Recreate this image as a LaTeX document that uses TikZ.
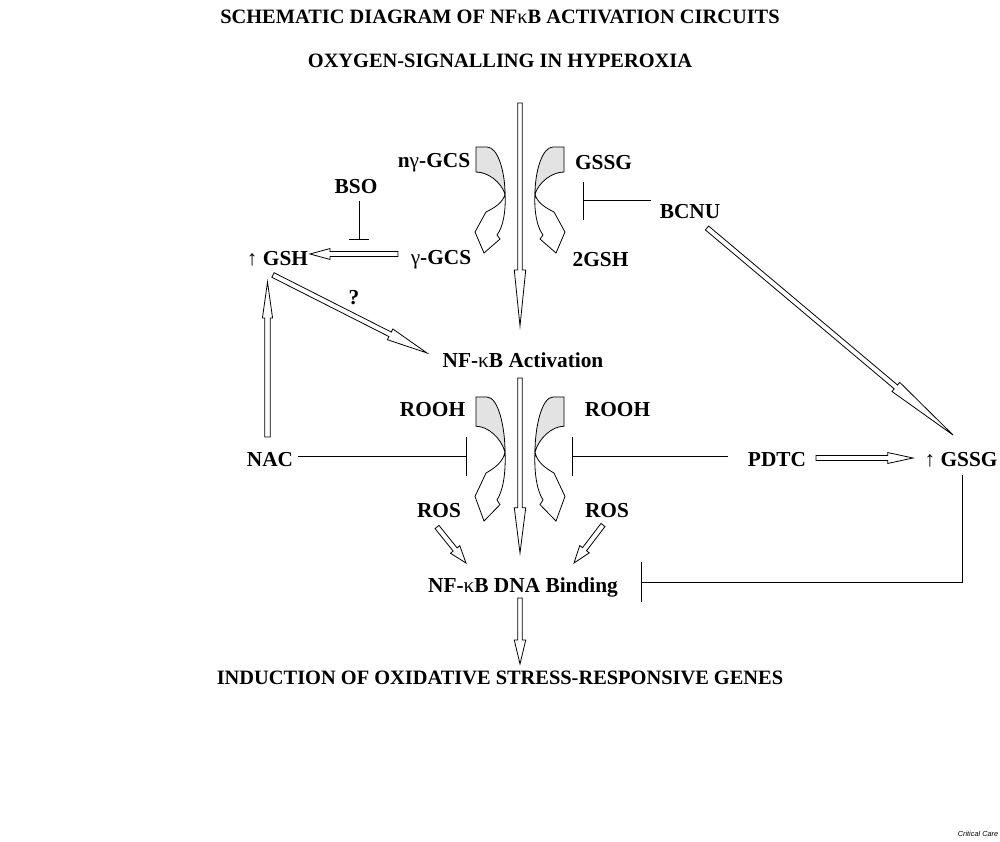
\documentclass[tikz,border=0pt]{standalone}
\usepackage{fontspec}
\setmainfont{Liberation Serif}
\newfontfamily\arialfont{Liberation Sans}
\usetikzlibrary{calc}
\newcommand\blkarrow[5]{%
  \coordinate (bh) at ($(#2)!#5!(#1)$);
  \draw[barrow] ($(#1)!#3!90:(#2)$) -- ($(bh)!#3!90:(#2)$) -- ($(bh)!#4!90:(#2)$) -- (#2)
    -- ($(bh)!#4!-90:(#2)$) -- ($(bh)!#3!-90:(#2)$) -- ($(#1)!#3!-90:(#2)$) -- cycle;}
\newcommand\curvarrow[1]{%
  \begin{scope}[#1]
    \filldraw[curvgray] (0,0) -- (11,0) .. controls (22,0) and (29,25) .. (29,47)
      .. controls (25,35) and (12,25) .. (0,25) -- cycle;
    \filldraw[curvwhite] (29,47) .. controls (27,56) and (18,61) .. (10,65)
      -- (-1,85) -- (8,106) -- (24,92) -- (21,88)
      .. controls (27,80) and (30,65) .. (29,47) -- cycle;
  \end{scope}}
\begin{document}
\begin{tikzpicture}[x=0.75pt,y=-0.75pt,
  lbl/.style={inner sep=0pt, font={\fontsize{16}{19}\selectfont\bfseries}},
  ttl/.style={inner sep=0pt, font={\fontsize{15.3}{18}\selectfont\bfseries}},
  barrow/.style={draw=black, fill=white, line width=0.6pt, line join=miter},
  inh/.style={draw=black, line width=0.6pt},
  curvgray/.style={fill=gray!22, draw=black, line width=0.6pt},
  curvwhite/.style={fill=white, draw=black, line width=0.6pt}]
\fill[white] (0,0) rectangle (1000,842);
\useasboundingbox (0,0) rectangle (1000,842);

% titles
\node[ttl] (t1) at (500,17) {SCHEMATIC DIAGRAM OF NF{\mdseries κ}B ACTIVATION CIRCUITS};
\node[ttl] (t2) at (500,61) {OXYGEN-SIGNALLING IN HYPEROXIA};
\node[ttl] (ind) at (500,678) {INDUCTION OF OXIDATIVE STRESS-RESPONSIVE GENES};
\node[inner sep=0pt, font={\arialfont\itshape\fontsize{5.5}{6}\selectfont}] (cc) at (978,834) {Critical Care};

% labels
\node[lbl] (ngcs) at (434,163) {n{\mdseries γ}-GCS};
\node[lbl] (gssg1) at (603.5,163) {GSSG};
\node[lbl] (bso) at (356,187) {BSO};
\node[lbl] (bcnu) at (690,212) {BCNU};
\node[lbl] (gsh) at (277.5,259) {{\mdseries ↑} GSH};
\node[lbl] (gcs) at (441,260) {{\mdseries γ}-GCS};
\node[lbl] (gsh2) at (600.5,260) {2GSH};
\node[lbl] (q) at (354,298) {?};
\node[lbl] (act) at (523,360) {NF-{\mdseries κ}B Activation};
\node[lbl] (rooh1) at (432.5,410) {ROOH};
\node[lbl] (rooh2) at (617.5,410) {ROOH};
\node[lbl] (nac) at (270,460) {NAC};
\node[lbl] (pdtc) at (777,460) {PDTC};
\node[lbl] (gssg2) at (961,460) {{\mdseries ↑} GSSG};
\node[lbl] (ros1) at (439,511) {ROS};
\node[lbl] (ros2) at (607,511) {ROS};
\node[lbl] (dna) at (523,587) {NF-{\mdseries κ}B DNA Binding};

% curved arrows
\curvarrow{shift={(476,147)}}
\curvarrow{shift={(564,147)}, xscale=-1}
\curvarrow{shift={(476,397)}, yscale=1.17}
\curvarrow{shift={(564,397)}, xscale=-1, yscale=1.17}

% connector end points
\coordinate (m1s) at (520,103);  \coordinate (m1e) at (520,326);
\coordinate (m2s) at (520,378);  \coordinate (m2e) at (520,553);
\coordinate (m3s) at (520,598);  \coordinate (m3e) at (520,664);
\coordinate (gcsA) at (398,254); \coordinate (gshA) at (310,254);
\coordinate (nacA) at (267.5,437); \coordinate (gshB) at (267.5,282);
\coordinate (gshC) at (273,275); \coordinate (actA) at (427,353);
\coordinate (bcnuA) at (707,228); \coordinate (gssgA) at (953,435);
\coordinate (pdtcA) at (816,458); \coordinate (gssgB) at (913,458);
\coordinate (ros1A) at (437,527); \coordinate (dnaA) at (466,563);
\coordinate (ros2A) at (603,525); \coordinate (dnaB) at (574,563);

% block arrows
\blkarrow{m1s}{m1e}{1.7pt}{4.3pt}{42pt}
\blkarrow{m2s}{m2e}{1.7pt}{4.3pt}{34pt}
\blkarrow{m3s}{m3e}{1.7pt}{4.3pt}{18pt}
\blkarrow{gcsA}{gshA}{1.9pt}{4.1pt}{15pt}
\blkarrow{nacA}{gshB}{2.1pt}{3.8pt}{27pt}
\blkarrow{gshC}{actA}{1.9pt}{4.5pt}{31pt}
\blkarrow{bcnuA}{gssgA}{1.9pt}{4.5pt}{56pt}
\blkarrow{pdtcA}{gssgB}{1.9pt}{4.1pt}{19pt}
\blkarrow{ros1A}{dnaA}{1.9pt}{4.5pt}{13pt}
\blkarrow{ros2A}{dnaB}{1.9pt}{4.5pt}{13pt}

% inhibition lines
\coordinate (bsoA) at (359,201); \coordinate (bsoB) at (359,239.5);
\draw[inh] (bsoA) -- (bsoB) ($(bsoB)+(-10,0)$) -- ($(bsoB)+(10,0)$);
\coordinate (bcnuB) at (651,200.7); \coordinate (bcnuC) at (583,200.7);
\draw[inh] (bcnuB) -- (bcnuC) ($(bcnuC)+(0,-19)$) -- ($(bcnuC)+(0,19)$);
\coordinate (nacB) at (298,456.7); \coordinate (nacC) at (466.7,456.7);
\draw[inh] (nacB) -- (nacC) ($(nacC)+(0,-19.5)$) -- ($(nacC)+(0,19.5)$);
\coordinate (pdtcB) at (728,456.7); \coordinate (pdtcC) at (572.7,456.7);
\draw[inh] (pdtcB) -- (pdtcC) ($(pdtcC)+(0,-19.5)$) -- ($(pdtcC)+(0,19.5)$);
\coordinate (gssgC) at (962,475); \coordinate (dnaC) at (641,582);
\draw[inh] (gssgC) |- (dnaC) ($(dnaC)+(0,-20)$) -- ($(dnaC)+(0,20)$);
\end{tikzpicture}
\end{document}
